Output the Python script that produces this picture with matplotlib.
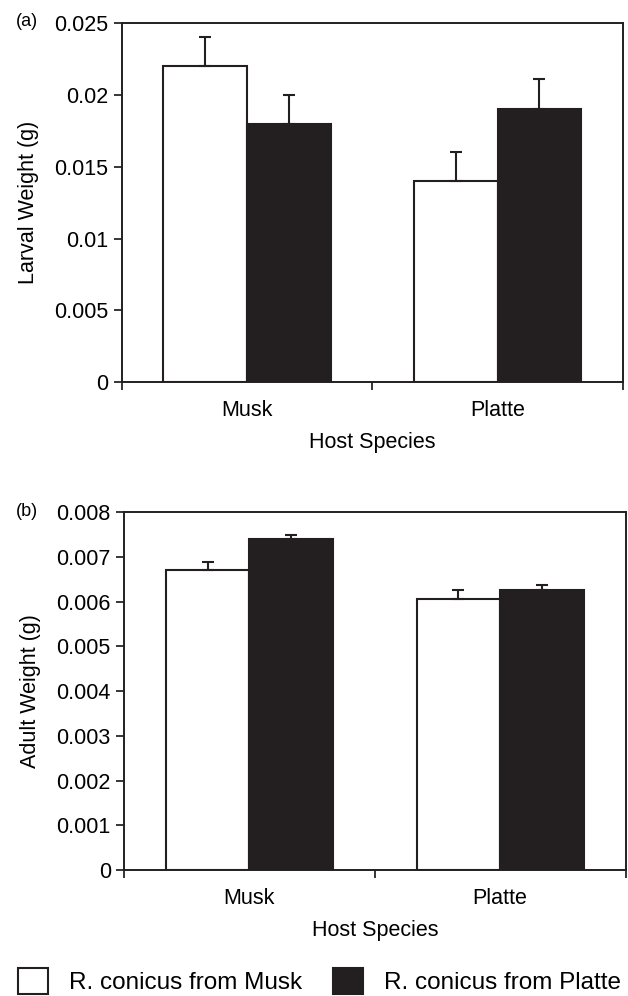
import matplotlib
matplotlib.use("Agg")
import matplotlib.pyplot as plt
from matplotlib.ticker import FixedLocator

plt.rcParams['font.family'] = ['Liberation Sans', 'DejaVu Sans']

# ---- data ----
hosts = ["Musk", "Platte"]
series_names = ["R. conicus from Musk", "R. conicus from Platte"]

larval_musk_pop = [0.022, 0.014]
larval_musk_err = [0.002, 0.002]
larval_platte_pop = [0.018, 0.019]
larval_platte_err = [0.002, 0.0021]

adult_musk_pop = [0.0067, 0.00607]
adult_musk_err = [0.0002, 0.0002]
adult_platte_pop = [0.0074, 0.00627]
adult_platte_err = [0.0001, 0.0001]

larval_ticks = [0, 0.005, 0.01, 0.015, 0.02, 0.025]
larval_ticklabels = ["0", "0.005", "0.01", "0.015", "0.02", "0.025"]
adult_ticks = [0, 0.001, 0.002, 0.003, 0.004, 0.005, 0.006, 0.007, 0.008]
adult_ticklabels = ["0", "0.001", "0.002", "0.003", "0.004", "0.005", "0.006", "0.007", "0.008"]

BLACK = "#231f20"
FS = 15.5

fig = plt.figure(figsize=(6.28, 9.96), dpi=100)
ax_a = fig.add_axes([0.1938, 0.6162, 0.7982, 0.3607])
ax_b = fig.add_axes([0.1975, 0.1265, 0.7986, 0.3591])


def draw(ax, v1, e1, v2, e2, ticks, ticklabels, ylabel, tag, tag_y):
    x = list(range(len(hosts)))
    w = 1 / 3
    xl = [i - w / 2 for i in x]
    xr = [i + w / 2 for i in x]
    b1 = ax.bar(xl, v1, width=w, color="white", edgecolor=BLACK, linewidth=1.5,
                label=series_names[0], zorder=2)
    b2 = ax.bar(xr, v2, width=w, color=BLACK, edgecolor=BLACK, linewidth=1.5,
                label=series_names[1], zorder=2)
    ax.errorbar(xl, v1, yerr=[[0] * len(e1), e1], fmt="none", ecolor=BLACK,
                elinewidth=1.5, capsize=4.5, capthick=1.5, zorder=3)
    ax.errorbar(xr, v2, yerr=[[0] * len(e2), e2], fmt="none", ecolor=BLACK,
                elinewidth=1.5, capsize=4.5, capthick=1.5, zorder=1)
    ax.set_xlim(-0.5, len(hosts) - 0.5)
    ax.set_ylim(ticks[0], ticks[-1])
    ax.set_yticks(ticks)
    ax.set_yticklabels(ticklabels)
    ax.set_xticks(x)
    ax.set_xticklabels(hosts)
    ax.xaxis.set_minor_locator(FixedLocator([i - 0.5 for i in range(len(hosts) + 1)]))
    ax.tick_params(axis="x", which="major", length=0, pad=13, labelsize=FS)
    ax.tick_params(axis="x", which="minor", length=5.5, width=1.1, direction="out")
    ax.tick_params(axis="y", which="major", length=5.5, width=1.1, direction="out",
                   pad=4, labelsize=FS)
    for s in ax.spines.values():
        s.set_linewidth(1.4)
        s.set_color(BLACK)
    ax.set_xlabel("Host Species", fontsize=FS, labelpad=8)
    ax.set_ylabel(ylabel, fontsize=FS)
    ax.yaxis.set_label_coords(-0.165, 0.5)
    fig.text(0.026, tag_y, tag, fontsize=13, va="center", ha="left")
    return b1, b2


h1, h2 = draw(ax_a, larval_musk_pop, larval_musk_err, larval_platte_pop, larval_platte_err,
              larval_ticks, larval_ticklabels, "Larval Weight (g)", "(a)", 1 - 22 / 996)
draw(ax_b, adult_musk_pop, adult_musk_err, adult_platte_pop, adult_platte_err,
     adult_ticks, adult_ticklabels, "Adult Weight (g)", "(b)", 1 - 512 / 996)

LFS = 17.5
for h, xpos in [(h1, 18 / 628), (h2, 333 / 628)]:
    fig.legend(handles=[h], loc="center left", bbox_to_anchor=(xpos, 1 - 981 / 996),
               frameon=False, fontsize=LFS, handlelength=1.25, handleheight=1.25,
               handletextpad=0.85, borderpad=0, borderaxespad=0)

fig.savefig("out.png", dpi=100)
